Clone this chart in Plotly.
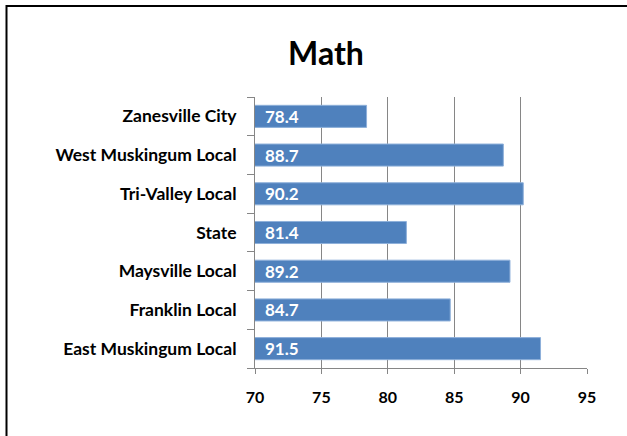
import plotly.graph_objects as go

categories = ["East Muskingum Local", "Franklin Local", "Maysville Local", "State",
              "Tri-Valley Local", "West Muskingum Local", "Zanesville City"]
values = [91.5, 84.7, 89.2, 81.4, 90.2, 88.7, 78.4]
x_ticks = [70, 75, 80, 85, 90, 95]
title = "Math"

W, H = 627, 436
ml, mr, mt, mb = 255, 40, 97, 68
pw = W - ml - mr
ph = H - mt - mb

fig = go.Figure(go.Bar(
    y=categories, x=values, orientation="h",
    marker=dict(color="#4F81BD", line=dict(color="#8EB0DA", width=1)),
    hoverinfo="x+y",
))

# data labels at the base of each bar
for c, v in zip(categories, values):
    fig.add_annotation(x=70, y=c, xref="x", yref="y", text=f"{v:.1f}",
                       showarrow=False, xanchor="left", yanchor="middle", xshift=8, yshift=0,
                       font=dict(family="Lato", size=17, color="white", weight="bold"))

fig.update_layout(
    width=W, height=H,
    margin=dict(l=ml, r=mr, t=mt, b=mb, autoexpand=False),
    paper_bgcolor="white", plot_bgcolor="white",
    bargap=0.43,
    showlegend=False,
    title=dict(text=title, x=326 / W, xanchor="center", y=1 - 54 / H, yanchor="middle",
               font=dict(family="Lato", size=32, color="black", weight="bold")),
    font=dict(family="Lato", color="black"),
)
fig.update_xaxes(
    range=[70, 95], tickvals=x_ticks, ticks="outside", ticklen=5, tickcolor="#868686",
    showgrid=True, gridcolor="#868686", gridwidth=1,
    showline=True, linecolor="#868686", linewidth=1, zeroline=False,
    tickfont=dict(family="Lato", size=16, color="black", weight="bold"),
    ticklabelstandoff=10, automargin=False,
)
fig.update_yaxes(
    categoryorder="array", categoryarray=categories,
    ticks="outside", ticklen=7, tickcolor="#868686", tickson="boundaries",
    showline=True, linecolor="#868686", linewidth=1,
    tickfont=dict(family="Lato", size=17.5, color="black", weight="bold"),
    ticklabelstandoff=14, automargin=False,
)

# chart border (left and top edges visible, right/bottom cut off)
x0 = (6.5 - ml) / pw
x1 = (W + 5 - ml) / pw
y1 = 1 + (mt - 6) / ph
y0 = -(mb + 5) / ph
fig.add_shape(type="rect", xref="paper", yref="paper", x0=x0, x1=x1, y0=y0, y1=y1,
              line=dict(color="black", width=2), fillcolor="rgba(0,0,0,0)", layer="below")

fig.write_html("out.html", config={"displayModeBar": False},
               post_script="document.body.style.margin='0';")
